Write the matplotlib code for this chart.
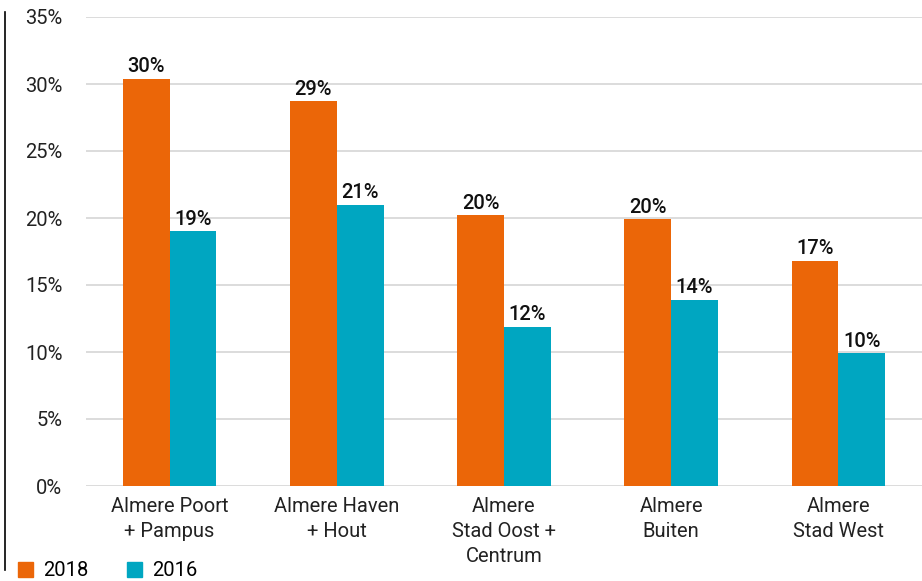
import matplotlib
matplotlib.use("Agg")
import matplotlib.pyplot as plt
from matplotlib.lines import Line2D
from matplotlib.patches import Patch
import numpy as np

categories = ["Almere Poort\n+ Pampus", "Almere Haven\n+ Hout", "Almere\nStad Oost +\nCentrum", "Almere\nBuiten", "Almere\nStad West"]
values_2018 = [30.4, 28.7, 20.2, 19.9, 16.8]
values_2016 = [19.0, 21.0, 11.9, 13.9, 9.9]
labels_2018 = ["30%", "29%", "20%", "20%", "17%"]
labels_2016 = ["19%", "21%", "12%", "14%", "10%"]
series_names = ["2018", "2016"]
yticks = [0, 5, 10, 15, 20, 25, 30, 35]

orange = "#EB6608"
teal = "#00A6C1"

plt.rcParams['font.family'] = ['Roboto', 'DejaVu Sans']

fig = plt.figure(figsize=(9.22, 5.81), dpi=100)
ax = fig.add_axes([86/922, 1-486/581, 1-86/922, (486-17)/581])

x = np.arange(len(categories))
w = 0.28
b1 = ax.bar(x - w/2, values_2018, w, color=orange, zorder=3)
b2 = ax.bar(x + w/2, values_2016, w, color=teal, zorder=3)

for bars, labs in ((b1, labels_2018), (b2, labels_2016)):
    for r, lab in zip(bars, labs):
        ax.annotate(lab, (r.get_x() + r.get_width()/2, r.get_height()),
                    xytext=(0, 2), textcoords="offset points",
                    ha="center", va="bottom", fontsize=14.5, fontweight="medium",
                    color="#111111")

ax.set_xlim(-0.5, len(categories) - 0.5)
ax.set_ylim(0, 35)
ax.set_yticks(yticks)
ax.set_yticklabels([f"{t}%" for t in yticks], fontsize=14.5, color="#222222")
ax.set_xticks(x)
ax.set_xticklabels(categories, fontsize=14.5, color="#222222", linespacing=1.4)
ax.tick_params(axis="both", length=0)
ax.tick_params(axis="y", pad=17)
ax.tick_params(axis="x", pad=8)
ax.yaxis.grid(True, color="#D9D9D9", linewidth=1.3, zorder=0)
ax.set_axisbelow(True)
for s in ax.spines.values():
    s.set_visible(False)

# left vertical rule
fig.add_artist(Line2D([5/922, 5/922], [1-12/581, 1-570/581], color="black", linewidth=1.2))

handles = [Patch(color=orange), Patch(color=teal)]
fig.legend(handles, series_names, loc="lower left", bbox_to_anchor=(0.0, -0.03),
           ncol=2, frameon=False, fontsize=14.5, handlelength=0.75, handleheight=0.75,
           handletextpad=0.5, columnspacing=1.9)

fig.savefig("out.png", dpi=100)
